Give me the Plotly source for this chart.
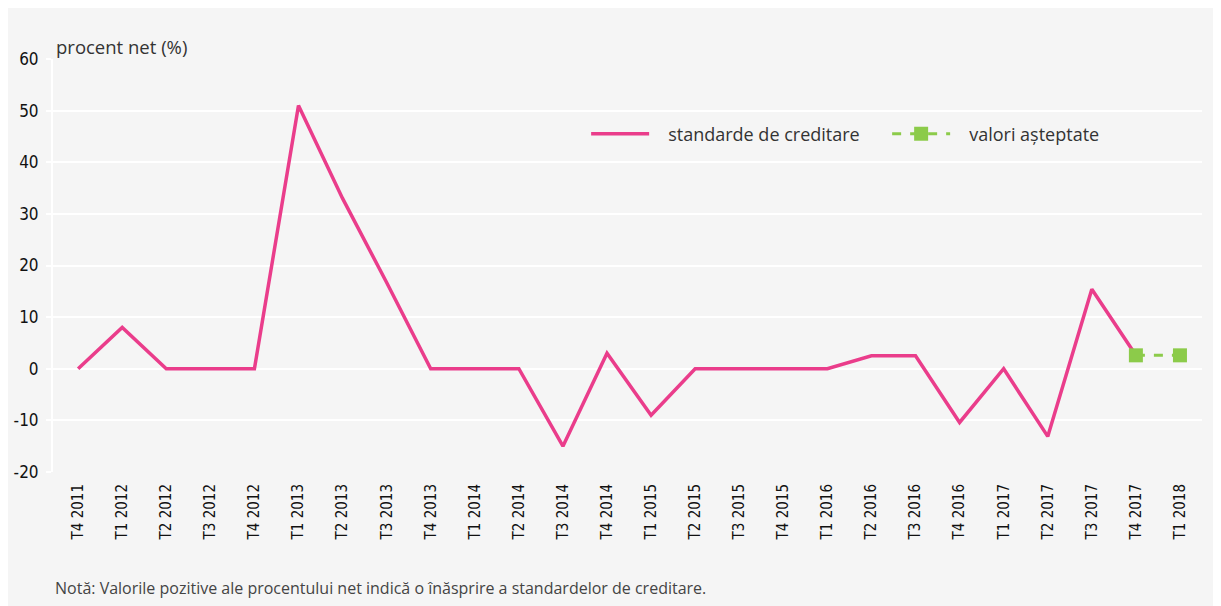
import plotly.graph_objects as go

# Data
quarters = ["T4 2011", "T1 2012", "T2 2012", "T3 2012", "T4 2012",
            "T1 2013", "T2 2013", "T3 2013", "T4 2013",
            "T1 2014", "T2 2014", "T3 2014", "T4 2014",
            "T1 2015", "T2 2015", "T3 2015", "T4 2015",
            "T1 2016", "T2 2016", "T3 2016", "T4 2016",
            "T1 2017", "T2 2017", "T3 2017", "T4 2017", "T1 2018"]
standarde = [0, 8, 0, 0, 0,
             51, 33, 16.7, 0,
             0, 0, -15, 3,
             -9, 0, 0, 0,
             0, 2.5, 2.5, -10.4,
             0, -13.1, 15.4, 2.6, None]
asteptate_x = ["T4 2017", "T1 2018"]
asteptate_y = [2.6, 2.6]
y_ticks = [-20, -10, 0, 10, 20, 30, 40, 50, 60]
y_ticklabels = ["-20", "-10", "0", "10", "20", "30", "40", "50", "60"]

PINK = "#EA3D8B"
GREEN = "#8CCB4A"
BG = "#F5F5F5"
TICKFONT = "Liberation Sans Narrow, DejaVu Sans Condensed, sans-serif"
TEXTFONT = "Open Sans, Noto Sans, sans-serif"
PAD = "\u00a0\u00a0\u00a0"

fig = go.Figure()
fig.add_trace(go.Scatter(
    x=quarters, y=standarde, mode="lines", name=PAD + "standarde de creditare",
    line=dict(color=PINK, width=3.5), connectgaps=False,
))
fig.add_trace(go.Scatter(
    x=asteptate_x, y=asteptate_y, mode="lines+markers", name=PAD + "valori așteptate",
    line=dict(color=GREEN, width=3, dash="dash"),
    marker=dict(symbol="square", size=14, color=GREEN),
))

fig.update_layout(
    width=1221, height=606,
    margin=dict(l=45, r=27, t=51, b=142),
    paper_bgcolor=BG, plot_bgcolor=BG,
    showlegend=True,
    legend=dict(orientation="h", x=0.464, y=0.818, xanchor="left", yanchor="middle",
                bgcolor="rgba(0,0,0,0)", font=dict(family=TEXTFONT, size=18, color="#333"),
                itemwidth=58, entrywidth=228, traceorder="normal"),
    xaxis=dict(type="category", categoryorder="array", categoryarray=quarters,
               range=[-0.57, len(quarters) - 0.5], automargin=False,
               showgrid=False, tickangle=-90, ticks="", ticklabelstandoff=8,
               tickfont=dict(family=TICKFONT, size=15, color="#111"),
               showline=False, zeroline=False),
    yaxis=dict(range=[-20, 60], tickmode="array", tickvals=y_ticks, ticktext=y_ticklabels,
               showgrid=True, gridcolor="white", gridwidth=2,
               zeroline=False, showline=True, linecolor="white", linewidth=2,
               ticks="outside", tickcolor="white", ticklen=5, tickwidth=2, automargin=False,
               ticklabelstandoff=4,
               tickfont=dict(family=TICKFONT, size=17, color="#111")),
    annotations=[
        dict(text="procent net (%)", xref="paper", yref="paper", x=0.001, y=0.995,
             xanchor="left", yanchor="bottom", showarrow=False,
             font=dict(family=TEXTFONT, size=18.5, color="#333")),
        dict(text="Notă: Valorile pozitive ale procentului net indică o înăsprire a standardelor de creditare.",
             xref="paper", yref="paper", x=0.0, y=-0.28,
             xanchor="left", yanchor="middle", showarrow=False,
             font=dict(family=TEXTFONT, size=16, color="#444")),
    ],
)

fig.write_html("out.html")
